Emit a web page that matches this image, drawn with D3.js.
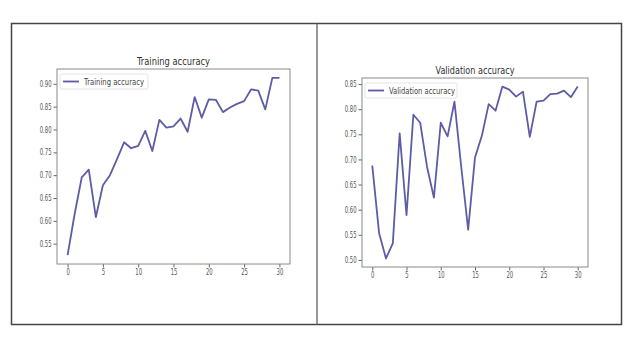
<!DOCTYPE html>
<html>
<head>
<meta charset="utf-8">
<script src="https://cdn.jsdelivr.net/npm/d3@7"></script>
<style>
  body { margin: 0; background: #fff; }
  text { font-family: "DejaVu Sans", sans-serif; fill: #444; }
</style>
</head>
<body>
<div id="div"></div>
<script>
var epochs = [0,1,2,3,4,5,6,7,8,9,10,11,12,13,14,15,16,17,18,19,20,21,22,23,24,25,26,27,28,29,30]
var trainAcc = [0.525,0.615,0.695,0.712,0.608,0.678,0.700,0.735,0.772,0.759,0.764,0.797,0.753,0.821,0.804,0.807,0.824,0.795,0.871,0.826,0.866,0.865,0.838,0.848,0.856,0.862,0.888,0.885,0.844,0.913,0.913]
var valAcc = [0.688,0.553,0.503,0.533,0.752,0.589,0.789,0.773,0.685,0.624,0.773,0.746,0.815,0.684,0.560,0.704,0.747,0.810,0.797,0.845,0.839,0.825,0.835,0.745,0.815,0.817,0.830,0.831,0.837,0.824,0.845]
var xTicks = [0,5,10,15,20,25,30]
var trainTicks = [0.55,0.60,0.65,0.70,0.75,0.80,0.85,0.90]
var valTicks = [0.50,0.55,0.60,0.65,0.70,0.75,0.80,0.85]

var width = 640, height = 347;
var svg = d3.select('#div').append('svg')
    .attr('width', width)
    .attr('height', height);

svg.append('rect')
    .attr('width', width)
    .attr('height', height)
    .style('fill', '#fff');

// outer frame and divider
svg.append('rect')
    .attr('x', 11.5).attr('y', 23.5)
    .attr('width', 610).attr('height', 301)
    .style('fill', 'none').style('stroke', '#444').style('stroke-width', 1.5);
svg.append('line')
    .attr('x1', 317).attr('x2', 317).attr('y1', 23).attr('y2', 325)
    .style('stroke', '#555').style('stroke-width', 1.2);

var lineColor = '#5d5ca6';

// squeeze text horizontally, the scan looks condensed
function squeeze(sel, f) {
    sel.each(function () {
        var w = this.getComputedTextLength();
        d3.select(this).attr('textLength', w * f).attr('lengthAdjust', 'spacingAndGlyphs');
    })
}

function drawPanel(p) {
    var ext = d3.extent(p.values);
    var pad = (ext[1] - ext[0]) * 0.05;
    var x = d3.scaleLinear().domain([-1.5, 31.5]).range([p.left, p.right]);
    var y = d3.scaleLinear().domain([ext[0] - pad, ext[1] + pad]).range([p.bottom, p.top]);
    var g = svg.append('g');

    var xAxis = g.append('g')
        .attr('transform', 'translate(0,' + p.bottom + ')')
        .call(d3.axisBottom(x).tickValues(xTicks).tickSize(3.5).tickPadding(2).tickFormat(d3.format('d')));
    var yAxis = g.append('g')
        .attr('transform', 'translate(' + p.left + ',0)')
        .call(d3.axisLeft(y).tickValues(p.ticks).tickSize(3.5).tickPadding(2).tickFormat(d3.format('.2f')));
    [xAxis, yAxis].forEach(function (a) {
        a.select('.domain').remove();
        a.selectAll('line').style('stroke', '#666');
        a.selectAll('text').style('font-size', '8px').style('fill', '#555')
            .style('font-family', '"DejaVu Sans", sans-serif');
        squeeze(a.selectAll('text'), 0.66);
    });

    g.append('rect')
        .attr('x', p.left).attr('y', p.top)
        .attr('width', p.right - p.left).attr('height', p.bottom - p.top)
        .style('fill', 'none').style('stroke', '#8a8a8a').style('stroke-width', 1);

    var line = d3.line()
        .x(function (d, i) { return x(epochs[i]) })
        .y(function (d) { return y(d) });
    g.append('path')
        .datum(p.values)
        .attr('d', line)
        .style('fill', 'none')
        .style('stroke', lineColor)
        .style('stroke-width', 1.8)
        .style('stroke-linejoin', 'round');

    g.append('text')
        .text(p.title)
        .attr('x', (p.left + p.right) / 2)
        .attr('y', p.top - 4)
        .attr('text-anchor', 'middle')
        .style('font-size', '10.5px')
        .style('fill', '#333')
        .attr('textLength', p.titleLen)
        .attr('lengthAdjust', 'spacingAndGlyphs');

    // legend
    var lg = g.append('g').attr('transform', 'translate(' + (p.left + 3) + ',' + (p.top + 5) + ')');
    lg.append('rect')
        .attr('width', p.legendW).attr('height', 15).attr('rx', 2)
        .style('fill', '#fff').style('stroke', '#ddd').style('stroke-width', 0.8);
    lg.append('line')
        .attr('x1', 3).attr('x2', 19).attr('y1', 7.5).attr('y2', 7.5)
        .style('stroke', lineColor).style('stroke-width', 1.8);
    lg.append('text')
        .text(p.title)
        .attr('x', 24).attr('y', 10.5)
        .style('font-size', '8px')
        .style('fill', '#444')
        .attr('textLength', p.legendLen)
        .attr('lengthAdjust', 'spacingAndGlyphs');
}

drawPanel({
    title: 'Training accuracy', values: trainAcc, ticks: trainTicks,
    left: 57, right: 290, top: 69, bottom: 264,
    titleLen: 73, legendW: 88, legendLen: 60
});
drawPanel({
    title: 'Validation accuracy', values: valAcc, ticks: valTicks,
    left: 362, right: 588, top: 78, bottom: 267,
    titleLen: 79, legendW: 92, legendLen: 66
});
</script>
</body>
</html>
